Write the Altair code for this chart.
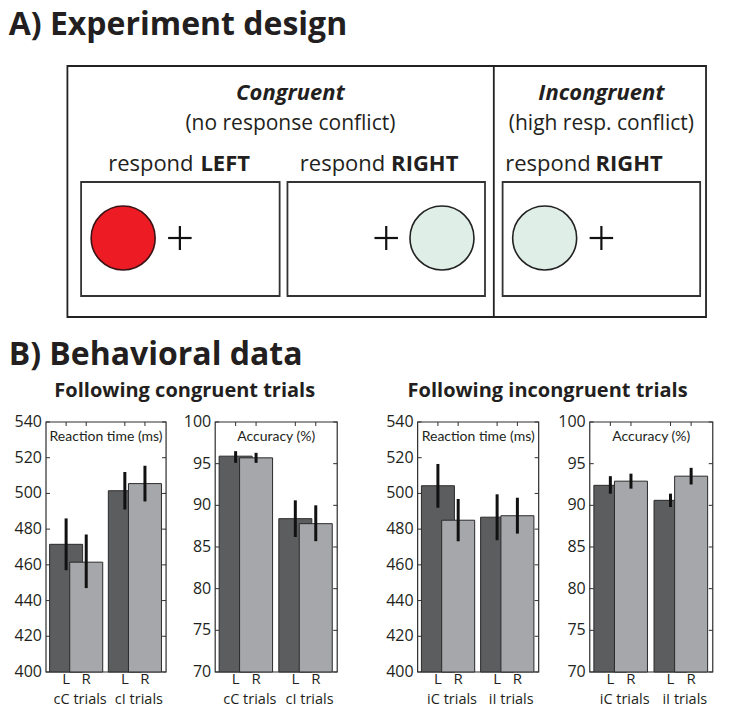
import altair as alt
import pandas as pd

FONT = "Open Sans"
NARROW_FONT = "Lato"
INK = "#231f20"

# ---------------- data ----------------
bar_sides = ["L", "R", "L", "R"]
bar_positions = [1.0, 2.0, 3.92, 4.92]

cong_groups = ["cC trials", "cI trials"]
incong_groups = ["iC trials", "iI trials"]

rt_cong_mean = [471.5, 461.5, 501.5, 505.5]
rt_cong_lo = [457.0, 447.0, 491.0, 495.5]
rt_cong_hi = [486.0, 477.0, 512.0, 515.5]

acc_cong_mean = [95.9, 95.7, 88.4, 87.8]
acc_cong_lo = [95.1, 95.1, 86.2, 85.7]
acc_cong_hi = [96.5, 96.3, 90.6, 90.0]

rt_incong_mean = [504.3, 485.0, 486.7, 487.5]
rt_incong_lo = [492.0, 473.2, 473.8, 477.5]
rt_incong_hi = [516.5, 496.9, 499.5, 497.6]

acc_incong_mean = [92.4, 92.9, 90.6, 93.5]
acc_incong_lo = [91.4, 92.0, 89.8, 92.5]
acc_incong_hi = [93.5, 93.8, 91.4, 94.5]

rt_ticks = [400, 420, 440, 460, 480, 500, 520, 540]
acc_ticks = [70, 75, 80, 85, 90, 95, 100]

# ---------------- layout ----------------
# Geometry is given in reference-figure pixels and squeezed horizontally by K
# so that the whole figure fits the 713 px wide page body.
K = 0.978
RX0, RX1 = 35, 729          # reference x of the plot-area left / right edge
CY0, CY1 = 8, 672           # page y of the plot-area top / bottom
PANEL_TOP, PANEL_BOTTOM = 422, 672
panel_frames = [(35, 168), (208, 343), (415, 549), (591, 727)]
X_LIMITS = (0.0, 5.97)
BAR_PX = 33
L_FILL, R_FILL = "#5c5d5f", "#a6a7aa"
W = (RX1 - RX0) * K

# diagram geometry (reference pixels)
outer_box = pd.DataFrame({"x0": [62], "y0": [66], "x1": [715], "y1": [317]})
divider = pd.DataFrame({"x": [498], "y0": [66], "y1": [317]})
stim_boxes = pd.DataFrame({"x0": [76, 287, 507], "y0": [182, 182, 182],
                           "x1": [279, 489, 709], "y1": [296, 296, 296]})
circles = pd.DataFrame({"x": [119, 445, 550], "y": [238, 238, 238],
                        "fill": ["#ed1c24", "#e0eee8", "#e0eee8"],
                        "edge": ["#3a1215", "#222222", "#222222"]})
fix_x = [177, 388, 608]
fix_y = [238, 238, 238]
FIX_HALF = 12

headings = pd.DataFrame({"t": ["A) Experiment design", "B) Behavioral data"],
                         "x": [2, 2], "y": [35, 365]})
subheads = pd.DataFrame({"t": ["Following congruent trials", "Following incongruent trials"],
                         "x": [182, 553], "y": [397, 397]})
cond_titles = pd.DataFrame({"t": ["Congruent", "Incongruent"], "x": [290, 608], "y": [100, 100]})
cond_subs = pd.DataFrame({"t": ["(no response conflict)", "(high resp. conflict)"],
                          "x": [290, 608], "y": [130, 130]})
respond_words = pd.DataFrame({"t": ["respond", "respond", "respond"],
                              "x": [191, 387, 597], "y": [171, 171, 171]})
respond_dirs = pd.DataFrame({"t": ["LEFT", "RIGHT", "RIGHT"],
                             "x": [198, 393, 602], "y": [171, 171, 171]})

XP = alt.Scale(domain=[RX0, RX1], range=[0, W], nice=False, zero=False)
YP = alt.Scale(domain=[CY0, CY1], range=[0, CY1 - CY0], nice=False, zero=False)


def PX(f):
    return alt.X(f, type="quantitative", scale=XP, axis=None)


def PY(f):
    return alt.Y(f, type="quantitative", scale=YP, axis=None)


def text_layer(df, **mk):
    return alt.Chart(df).mark_text(font=FONT, color=INK, **mk).encode(
        x=PX("x"), y=PY("y"), text="t:N")


fix_h = pd.DataFrame({"x0": [v - FIX_HALF for v in fix_x], "x1": [v + FIX_HALF for v in fix_x], "y": fix_y})
fix_v = pd.DataFrame({"x": fix_x, "y0": [v - FIX_HALF for v in fix_y], "y1": [v + FIX_HALF for v in fix_y]})

diagram = alt.layer(
    alt.Chart(outer_box).mark_rect(filled=False, color="#222222", strokeWidth=1.8).encode(
        x=PX("x0"), x2="x1", y=PY("y0"), y2="y1"),
    alt.Chart(divider).mark_rule(color="#222222", strokeWidth=1.8).encode(
        x=PX("x"), y=PY("y0"), y2="y1"),
    alt.Chart(stim_boxes).mark_rect(filled=False, color="#333333", strokeWidth=1.8).encode(
        x=PX("x0"), x2="x1", y=PY("y0"), y2="y1"),
    alt.Chart(circles).mark_point(shape="circle", filled=True, size=4096, strokeWidth=1.6,
                                  opacity=1, strokeOpacity=1).encode(
        x=PX("x"), y=PY("y"),
        fill=alt.Fill("fill:N", scale=None), stroke=alt.Stroke("edge:N", scale=None)),
    alt.Chart(fix_h).mark_rule(color="#111111", strokeWidth=2.2).encode(
        x=PX("x0"), x2="x1", y=PY("y")),
    alt.Chart(fix_v).mark_rule(color="#111111", strokeWidth=2.2).encode(
        x=PX("x"), y=PY("y0"), y2="y1"),
    text_layer(headings, align="left", baseline="alphabetic", fontSize=32, fontWeight="bold"),
    text_layer(subheads, align="center", baseline="alphabetic", fontSize=20, fontWeight="bold"),
    text_layer(cond_titles, align="center", baseline="alphabetic", fontSize=22,
               fontWeight="bold", fontStyle="italic"),
    text_layer(cond_subs, align="center", baseline="alphabetic", fontSize=21),
    text_layer(respond_words, align="right", baseline="alphabetic", fontSize=22),
    text_layer(respond_dirs, align="left", baseline="alphabetic", fontSize=22, fontWeight="bold"),
)


def panel(title, groups, mean, lo, hi, ticks, frame):
    ymin, ymax = ticks[0], ticks[-1]
    x0, x1 = X_LIMITS
    xs = alt.Scale(domain=[x0, x1], range=[(frame[0] - RX0) * K, (frame[1] - RX0) * K],
                   nice=False, zero=False)
    ys = alt.Scale(domain=[ymin, ymax], range=[PANEL_BOTTOM - CY0, PANEL_TOP - CY0],
                   nice=False, zero=False)

    def X(f):
        return alt.X(f, type="quantitative", scale=xs, axis=None)

    def Y(f):
        return alt.Y(f, type="quantitative", scale=ys, axis=None)

    bars = pd.DataFrame({"pos": bar_positions, "side": bar_sides, "mean": mean,
                         "lo": lo, "hi": hi, "base": ymin, "top": ymax})
    tk = pd.DataFrame({"v": ticks, "xmin": x0, "xmax": x1})
    fr = pd.DataFrame({"xmin": [x0], "xmax": [x1], "ymin": [ymin], "ymax": [ymax],
                       "xmid": [(x0 + x1) / 2], "t": [title]})
    grp = pd.DataFrame({"g": groups,
                        "mid": [(bar_positions[0] + bar_positions[1]) / 2,
                                (bar_positions[2] + bar_positions[3]) / 2],
                        "base": ymin})

    return alt.layer(
        alt.Chart(fr).mark_rect(filled=False, color="#2e2e2e", strokeWidth=1.2).encode(
            x=X("xmin"), x2="xmax", y=Y("ymin"), y2="ymax"),
        alt.Chart(tk).mark_rule(color="#2e2e2e", strokeWidth=1, x2Offset=4).encode(
            x=X("xmin"), x2="xmin", y=Y("v")),
        alt.Chart(tk).mark_rule(color="#2e2e2e", strokeWidth=1, xOffset=-4).encode(
            x=X("xmax"), x2="xmax", y=Y("v")),
        alt.Chart(bars).mark_rule(color="#2e2e2e", strokeWidth=1, y2Offset=4).encode(
            x=X("pos"), y=Y("top"), y2="top"),
        alt.Chart(bars).transform_filter(alt.datum.side == "L").mark_bar(
            size=BAR_PX, color=L_FILL, stroke="#2a2a2a", strokeWidth=1).encode(
            x=X("pos"), y=Y("mean"), y2="base"),
        alt.Chart(bars).transform_filter(alt.datum.side == "R").mark_bar(
            size=BAR_PX, color=R_FILL, stroke="#2a2a2a", strokeWidth=1).encode(
            x=X("pos"), y=Y("mean"), y2="base"),
        alt.Chart(bars).mark_rule(color="#111111", strokeWidth=3).encode(
            x=X("pos"), y=Y("lo"), y2="hi"),
        alt.Chart(fr).mark_text(font=NARROW_FONT, fontSize=14, color=INK, baseline="middle",
                                dy=15).encode(
            x=X("xmid"), y=Y("ymax"), text="t:N"),
        alt.Chart(tk).mark_text(font=FONT, fontSize=16, color=INK, align="right",
                                baseline="middle", dx=-4).encode(
            x=X("xmin"), y=Y("v"), text=alt.Text("v:Q", format="d")),
        alt.Chart(bars).mark_text(font=FONT, fontSize=15, color=INK, baseline="alphabetic",
                                  dy=12.5).encode(
            x=X("pos"), y=Y("base"), text="side:N"),
        alt.Chart(grp).mark_text(font=FONT, fontSize=14.5, color=INK, baseline="alphabetic",
                                 dx=4, dy=32.5).encode(
            x=X("mid"), y=Y("base"), text="g:N"),
    )


p1 = panel("Reaction time (ms)", cong_groups, rt_cong_mean, rt_cong_lo, rt_cong_hi, rt_ticks, panel_frames[0])
p2 = panel("Accuracy (%)", cong_groups, acc_cong_mean, acc_cong_lo, acc_cong_hi, acc_ticks, panel_frames[1])
p3 = panel("Reaction time (ms)", incong_groups, rt_incong_mean, rt_incong_lo, rt_incong_hi, rt_ticks, panel_frames[2])
p4 = panel("Accuracy (%)", incong_groups, acc_incong_mean, acc_incong_lo, acc_incong_hi, acc_ticks, panel_frames[3])

chart = alt.layer(diagram, p1, p2, p3, p4).resolve_scale(
    x="independent", y="independent"
).properties(
    width=W, height=CY1 - CY0, padding=0, background="white"
).configure_view(strokeWidth=0)

chart.save("out.html", embed_options={"renderer": "svg", "actions": False})
